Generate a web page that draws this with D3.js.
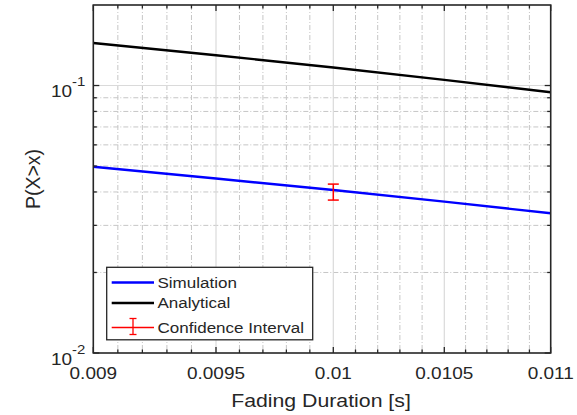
<!DOCTYPE html>
<html>
<head>
<meta charset="utf-8">
<script src="https://cdn.jsdelivr.net/npm/d3@7"></script>
<style>
  html, body { margin: 0; padding: 0; background: #fff; }
  svg { display: block; }
  text { font-family: "Liberation Sans", Arial, Helvetica, sans-serif; fill: #262626; }
</style>
</head>
<body>
<svg id="chart" width="577" height="415"></svg>
<script>
// Exceedance probability vs. fading duration
const xMajorTicks = [0.009, 0.0095, 0.01, 0.0105, 0.011];
const xTickLabels = ["0.009", "0.0095", "0.01", "0.0105", "0.011"];
const yMajorTicks = [0.01, 0.1];
const yTickExponents = ["-2", "-1"];

const fadingDuration = [0.009, 0.0095, 0.01, 0.0105, 0.011];
const simulation = [0.0497, 0.0449, 0.0407, 0.0368, 0.0333];
const analytical = [0.1442, 0.1298, 0.1168, 0.1050, 0.0944];

const ciX = [0.01];
const ciLower = [0.0373];
const ciUpper = [0.0428];

const legendLabels = ["Simulation", "Analytical", "Confidence Interval"];

const svg = d3.select("#chart");
const plot = { left: 93.3, right: 550.7, top: 5, bottom: 353 };
const sx = 1.15; // horizontal glyph stretch

const x = d3.scaleLinear()
  .domain(xMajorTicks)
  .range([plot.left, 216, 333.3, 444.3, plot.right]);
const y = d3.scaleLog()
  .domain([0.01, 0.2])
  .range([plot.bottom, plot.top]);

const xMinor = d3.range(1, 20).map(i => +(0.009 + i * 0.0001).toFixed(5))
  .filter(v => !xMajorTicks.some(m => Math.abs(m - v) < 1e-9));
const yMinor = y.ticks().filter(v => !yMajorTicks.some(m => Math.abs(m - v) < 1e-12) && v < 0.2);

function label(g, tx, ty, str, size, anchor, extra) {
  return g.append("text")
    .attr("transform", `translate(${tx},${ty}) scale(${sx},1)` + (extra || ""))
    .attr("text-anchor", anchor)
    .style("font-size", size + "px")
    .text(str);
}

// grid
const grid = svg.append("g");
grid.selectAll(".xminor").data(xMinor).join("line")
  .attr("x1", d => x(d)).attr("x2", d => x(d))
  .attr("y1", plot.top).attr("y2", plot.bottom)
  .attr("stroke", "#c6c6c6").attr("stroke-width", 1)
  .attr("stroke-dasharray", "5,2,1,2");
grid.selectAll(".yminor").data(yMinor).join("line")
  .attr("x1", plot.left).attr("x2", plot.right)
  .attr("y1", d => y(d)).attr("y2", d => y(d))
  .attr("stroke", "#c6c6c6").attr("stroke-width", 1)
  .attr("stroke-dasharray", "5,2,1,2");
grid.selectAll(".xmajor").data(xMajorTicks.slice(1, -1)).join("line")
  .attr("x1", d => x(d)).attr("x2", d => x(d))
  .attr("y1", plot.top).attr("y2", plot.bottom)
  .attr("stroke", "#dadada").attr("stroke-width", 1.2);
grid.selectAll(".ymajor").data([0.1]).join("line")
  .attr("x1", plot.left).attr("x2", plot.right)
  .attr("y1", d => y(d)).attr("y2", d => y(d))
  .attr("stroke", "#dadada").attr("stroke-width", 1.2);

// series
const line = d3.line().x((d, i) => x(fadingDuration[i])).y(d => y(d));
svg.append("path").datum(analytical).attr("d", line)
  .attr("fill", "none").attr("stroke", "#000").attr("stroke-width", 2.4);
svg.append("path").datum(simulation).attr("d", line)
  .attr("fill", "none").attr("stroke", "#0000ff").attr("stroke-width", 2.4);

// confidence interval
const ci = svg.append("g").attr("stroke", "#ff0000").attr("stroke-width", 1.5);
ciX.forEach((cx, i) => {
  ci.append("line").attr("x1", x(cx)).attr("x2", x(cx))
    .attr("y1", y(ciLower[i])).attr("y2", y(ciUpper[i]));
  [ciLower[i], ciUpper[i]].forEach(v => {
    ci.append("line").attr("x1", x(cx) - 5.5).attr("x2", x(cx) + 5.5)
      .attr("y1", y(v)).attr("y2", y(v));
  });
});

// axes box and ticks
const axes = svg.append("g").attr("stroke", "#262626").attr("stroke-width", 1.3);
axes.append("rect")
  .attr("x", plot.left).attr("y", plot.top)
  .attr("width", plot.right - plot.left).attr("height", plot.bottom - plot.top)
  .attr("fill", "none").attr("stroke-width", 1.6);
const xTicksAll = xMajorTicks.map(v => [v, 6]).concat(xMinor.map(v => [v, 3.5]));
xTicksAll.forEach(([v, len]) => {
  axes.append("line").attr("x1", x(v)).attr("x2", x(v)).attr("y1", plot.bottom).attr("y2", plot.bottom - len);
  axes.append("line").attr("x1", x(v)).attr("x2", x(v)).attr("y1", plot.top).attr("y2", plot.top + len);
});
const yTicksAll = yMajorTicks.map(v => [v, 6]).concat(yMinor.map(v => [v, 3.5]));
yTicksAll.forEach(([v, len]) => {
  axes.append("line").attr("x1", plot.left).attr("x2", plot.left + len).attr("y1", y(v)).attr("y2", y(v));
  axes.append("line").attr("x1", plot.right).attr("x2", plot.right - len).attr("y1", y(v)).attr("y2", y(v));
});

// tick labels
const labels = svg.append("g");
xMajorTicks.forEach((v, i) => label(labels, x(v), plot.bottom + 26, xTickLabels[i], 16.5, "middle"));
yMajorTicks.forEach((v, i) => {
  label(labels, 72, y(v) + 11.5, "10", 16.5, "end");
  label(labels, 72, y(v) + 0.5, yTickExponents[i], 13, "start");
});

// axis titles
label(labels, 321, 407, "Fading Duration [s]", 18.5, "middle");
labels.append("text")
  .attr("transform", "translate(40,179) scale(1.05,1) rotate(-90)")
  .attr("text-anchor", "middle")
  .style("font-size", "19.5px")
  .text("P(X>x)");

// legend
const lg = svg.append("g");
lg.append("rect").attr("x", 106.7).attr("y", 267.3).attr("width", 206).attr("height", 72.5)
  .attr("fill", "#fff").attr("stroke", "#262626").attr("stroke-width", 1.3);
const rowY = [282.5, 303, 327.5];
lg.append("line").attr("x1", 111.7).attr("x2", 154).attr("y1", rowY[0]).attr("y2", rowY[0])
  .attr("stroke", "#0000ff").attr("stroke-width", 2.4);
lg.append("line").attr("x1", 111.7).attr("x2", 154).attr("y1", rowY[1]).attr("y2", rowY[1])
  .attr("stroke", "#000").attr("stroke-width", 2.4);
const lci = lg.append("g").attr("stroke", "#ff0000").attr("stroke-width", 1.3);
lci.append("line").attr("x1", 111.7).attr("x2", 154).attr("y1", rowY[2]).attr("y2", rowY[2]);
lci.append("line").attr("x1", 133).attr("x2", 133).attr("y1", rowY[2] - 9).attr("y2", rowY[2] + 7);
lci.append("line").attr("x1", 129.5).attr("x2", 136.5).attr("y1", rowY[2] - 9).attr("y2", rowY[2] - 9);
lci.append("line").attr("x1", 129.5).attr("x2", 136.5).attr("y1", rowY[2] + 7).attr("y2", rowY[2] + 7);
legendLabels.forEach((t, i) => label(lg, 157.5, rowY[i] + 5.2, t, 14.8, "start"));
</script>
</body>
</html>
